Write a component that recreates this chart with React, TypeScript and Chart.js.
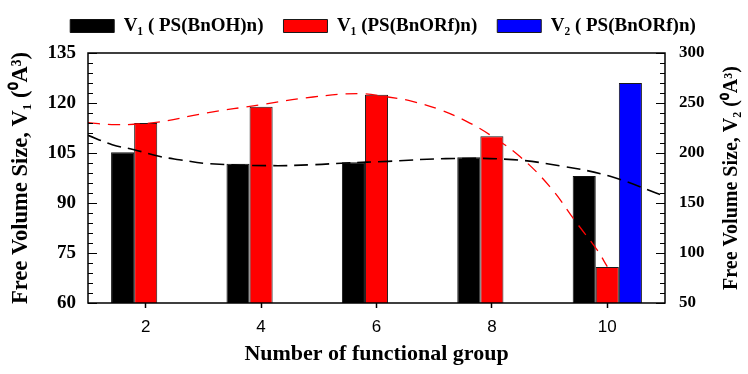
import React, { useEffect, useRef } from 'react';
import { Chart, registerables } from 'chart.js';

Chart.register(...registerables);

// ---------- data ----------
const categories = [2, 4, 6, 8, 10];
const v1BnOH = [105.2, 101.8, 102.2, 103.7, 98.1];
const v1BnORf = [114.0, 118.9, 122.5, 110.0, 70.8];
const v2BnORf = [null, null, null, null, 270];

// fitted trend curves (x = number of functional groups)
const fitBnOHX = [1.0, 1.42, 1.8, 2.23, 2.58, 3.1, 4.2, 4.9, 5.48, 6.2, 7.2, 8.36, 9.23, 10.05, 11.0];
const fitBnOHY = [110.3, 107.5, 106.0, 104.0, 103.0, 101.8, 101.2, 101.5, 102.0, 102.5, 103.3, 103.0, 101.0, 98.0, 92.0];
const fitBnORfX = [1.0, 1.49, 2.18, 3.05, 4.0, 4.9, 5.7, 6.2, 6.62, 7.1, 7.56, 7.96, 8.48, 9.0, 9.47, 9.82, 10.0];
const fitBnORfY = [114.1, 113.5, 114.2, 117.0, 119.5, 121.8, 122.8, 121.8, 120.5, 118.0, 114.5, 110.5, 104.0, 95.0, 84.0, 76.0, 70.9];

const legendLabels = ['V\u2081 ( PS(BnOH)n)', 'V\u2081 (PS(BnORf)n)', 'V\u2082 ( PS(BnORf)n)'];
const leftTitle = 'Free Volume Size, V\u2081 (\u2070A\u00B3)';
const rightTitle = 'Free Volume Size, V\u2082 (\u2070A\u00B3)';
const xTitle = 'Number of functional group';

const xRange = { min: 1, max: 11 };
const yLeft = { min: 60, max: 135, step: 15, minor: 3 };
const yRight = { min: 50, max: 300, step: 50, minor: 10 };

const SERIF = "'Liberation Serif', 'Times New Roman', serif";
const SANS = "'Liberation Sans', Arial, sans-serif";

const legendFix = {
  id: 'legendFix',
  beforeLayout(chart: any) {
    const lg = chart.legend;
    if (lg && !lg.__patched) {
      const orig = lg.fit.bind(lg);
      lg.fit = function () {
        orig();
        this.height = 53;
      };
      lg.__patched = true;
    }
  },
  afterLayout(chart: any) {
    const lg = chart.legend;
    if (lg) {
      lg.left += 9;
      lg.right += 9;
      lg.top -= 3.5;
      lg.bottom -= 3.5;
    }
  },
};

const frameTicks = {
  id: 'frameTicks',
  afterDatasetsDraw(chart: any) {
    const { ctx, chartArea, scales } = chart;
    const { left, right, top, bottom } = chartArea;
    ctx.save();
    ctx.strokeStyle = '#000';
    ctx.lineWidth = 1.5;
    ctx.beginPath();
    ctx.rect(left, top, right - left, bottom - top);
    ctx.stroke();
    ctx.lineWidth = 1;
    ctx.beginPath();
    const y = scales.y;
    for (let v = yLeft.min; v <= yLeft.max + 1e-6; v += yLeft.minor) {
      const py = Math.round(y.getPixelForValue(v)) + 0.5;
      const k = (v - yLeft.min) / yLeft.step;
      const major = Math.abs(k - Math.round(k)) < 1e-6;
      ctx.moveTo(left, py);
      ctx.lineTo(left + (major ? 9 : 5), py);
    }
    const y1 = scales.y1;
    for (let v = yRight.min; v <= yRight.max + 1e-6; v += yRight.minor) {
      const py = Math.round(y1.getPixelForValue(v)) + 0.5;
      const k = (v - yRight.min) / yRight.step;
      const major = Math.abs(k - Math.round(k)) < 1e-6;
      ctx.moveTo(right, py);
      ctx.lineTo(right - (major ? 9 : 5), py);
    }
    ctx.stroke();
    ctx.restore();
  },
  afterDraw(chart: any) {
    const { ctx, chartArea, scales } = chart;
    const y1 = scales.y1;
    const size = 20;
    ctx.save();
    ctx.font = `bold ${size}px ${SERIF}`;
    ctx.fillStyle = '#000';
    ctx.textAlign = 'center';
    ctx.textBaseline = 'middle';
    ctx.translate(y1.right - 4 - size * 0.6, (chartArea.top + chartArea.bottom) / 2);
    ctx.rotate(-Math.PI / 2);
    ctx.fillText(rightTitle, 0, 0);
    ctx.restore();
  },
};

export default function App() {
  const ref = useRef<HTMLCanvasElement | null>(null);

  useEffect(() => {
    if (!ref.current) return;
    const toPts = (xs: number[], ys: (number | null)[]) => xs.map((x, i) => ({ x, y: ys[i] }));
    const barCommon = {
      borderWidth: 1,
      categoryPercentage: 0.6,
      barPercentage: 1.0,
      order: 2,
    };
    const chart = new Chart(ref.current, {
      type: 'bar',
      data: {
        datasets: [
          {
            ...barCommon,
            label: legendLabels[0],
            data: toPts(categories, v1BnOH) as any,
            backgroundColor: '#000000',
            borderColor: '#111111',
            yAxisID: 'y',
          },
          {
            ...barCommon,
            label: legendLabels[1],
            data: toPts(categories, v1BnORf) as any,
            backgroundColor: '#ff0000',
            borderColor: '#1a1a1a',
            yAxisID: 'y',
          },
          {
            ...barCommon,
            label: legendLabels[2],
            data: toPts(categories, v2BnORf) as any,
            backgroundColor: '#0000ff',
            borderColor: '#1a1a1a',
            yAxisID: 'y1',
          },
          {
            type: 'line',
            label: 'fit BnOH',
            data: toPts(fitBnOHX, fitBnOHY) as any,
            yAxisID: 'y',
            borderColor: '#000000',
            borderWidth: 1.6,
            borderDash: [14, 7],
            pointRadius: 0,
            tension: 0.4,
            fill: false,
            order: 0,
          } as any,
          {
            type: 'line',
            label: 'fit BnORf',
            data: toPts(fitBnORfX, fitBnORfY) as any,
            yAxisID: 'y',
            borderColor: '#ff0000',
            borderWidth: 1.3,
            borderDash: [12, 8],
            pointRadius: 0,
            tension: 0.4,
            fill: false,
            order: 1,
          } as any,
        ],
      },
      options: {
        responsive: false,
        animation: false,
        devicePixelRatio: 1,
        layout: { padding: 0 },
        plugins: {
          legend: {
            display: true,
            position: 'top',
            labels: {
              boxWidth: 44,
              boxHeight: 13,
              padding: 20,
              color: '#000',
              font: { family: SERIF, size: 19, weight: 'bold' },
              filter: (item: any) => item.datasetIndex < 3,
            },
          },
          tooltip: { enabled: false },
        },
        scales: {
          x: {
            type: 'linear',
            offset: false,
            min: xRange.min,
            max: xRange.max,
            afterBuildTicks: (s: any) => {
              s.ticks = categories.map((v) => ({ value: v }));
            },
            grid: {
              display: true,
              drawOnChartArea: false,
              drawTicks: true,
              tickLength: 5,
              tickColor: '#000',
              tickWidth: 1.5,
              offset: false,
            },
            border: { display: false },
            ticks: {
              color: '#000',
              padding: 9,
              autoSkip: false,
              maxRotation: 0,
              font: { family: SANS, size: 17 },
            },
            title: {
              display: true,
              text: xTitle,
              color: '#000',
              font: { family: SERIF, size: 22, weight: 'bold' },
              padding: { top: 0, bottom: 6 },
            },
            afterFit: (s: any) => {
              s.height = 71;
            },
          },
          y: {
            type: 'linear',
            position: 'left',
            min: yLeft.min,
            max: yLeft.max,
            grid: { display: false, drawTicks: false },
            border: { display: false },
            ticks: {
              stepSize: yLeft.step,
              color: '#000',
              padding: 12,
              font: { family: SERIF, size: 19, weight: 'bold' },
            },
            title: {
              display: true,
              text: leftTitle,
              color: '#000',
              font: { family: SERIF, size: 22.5, weight: 'bold' },
              padding: { top: 8, bottom: 0 },
            },
            afterFit: (s: any) => {
              s.width = 88;
            },
          },
          y1: {
            type: 'linear',
            position: 'right',
            min: yRight.min,
            max: yRight.max,
            grid: { display: false, drawTicks: false },
            border: { display: false },
            ticks: {
              stepSize: yRight.step,
              color: '#000',
              padding: 14,
              font: { family: SERIF, size: 17, weight: 'bold' },
            },
            title: { display: false },
            afterFit: (s: any) => {
              s.width = 83;
            },
          },
        },
      } as any,
      plugins: [legendFix, frameTicks] as any,
    });
    return () => chart.destroy();
  }, []);

  return (
    <div style={{ position: 'fixed', left: 0, top: 0, width: 748, height: 374, background: '#fff' }}>
      <canvas ref={ref} width={748} height={374} />
    </div>
  );
}
